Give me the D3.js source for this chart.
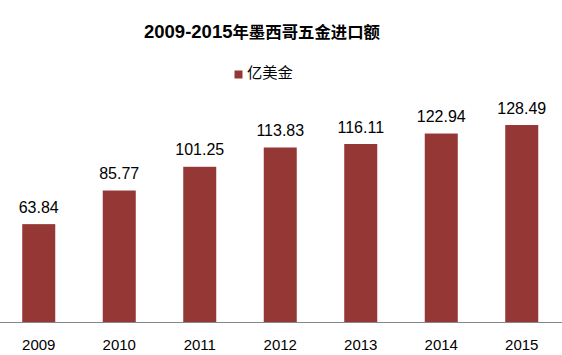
<!DOCTYPE html>
<html><head><meta charset="utf-8">
<script src="https://cdn.jsdelivr.net/npm/d3@7"></script>
<style>body{margin:0;background:#fff}svg{display:block}</style>
</head><body>
<script>
const years = ["2009","2010","2011","2012","2013","2014","2015"];
const values = [63.84, 85.77, 101.25, 113.83, 116.11, 122.94, 128.49];
const seriesName = "亿美金";
const titleNum = "2009-2015";
const titleCJK = "年墨西哥五金进口额";

const W = 562, H = 355;
const svg = d3.select("body").append("svg").attr("width", W).attr("height", H);

const x = d3.scaleBand().domain(years).range([-1.5, 562]).paddingInner(0.59).paddingOuter(0.295);
const y = d3.scaleLinear().domain([0, 140]).range([322, 322 - 140 * 1.533]);

// title
const t = svg.append("text").attr("x", 262).attr("y", 38).attr("text-anchor", "middle")
  .attr("font-weight", "bold").attr("fill", "#000");
t.append("tspan").attr("font-family", "'Liberation Sans', Arial, sans-serif").attr("font-size", 18.5).text(titleNum);
t.append("tspan").attr("font-family", "'Noto Sans CJK SC', sans-serif").attr("font-size", 16.4).text(titleCJK);

// legend
svg.append("rect").attr("x", 234.5).attr("y", 70.5).attr("width", 8).attr("height", 8).attr("fill", "#953735");
svg.append("text").attr("x", 247).attr("y", 78).attr("font-family", "'Noto Sans CJK SC', sans-serif")
  .attr("font-size", 15.3).attr("fill", "#000").text(seriesName);

// bars
svg.selectAll("rect.bar").data(values).join("rect").attr("class", "bar")
  .attr("x", (d, i) => x(years[i])).attr("width", x.bandwidth())
  .attr("y", d => y(d)).attr("height", d => y(0) - y(d)).attr("fill", "#953735");

// value labels
svg.selectAll("text.val").data(values).join("text").attr("class", "val")
  .attr("x", (d, i) => x(years[i]) + x.bandwidth() / 2).attr("y", d => y(d) - 11.5)
  .attr("text-anchor", "middle").attr("font-family", "'Liberation Sans', Arial, sans-serif")
  .attr("font-size", 16).attr("fill", "#000").text(d => d.toFixed(2));

// axis
const axis = svg.append("g").attr("transform", "translate(0,322)")
  .call(d3.axisBottom(x).tickSize(0).tickPadding(17));
axis.select(".domain").attr("d", "M0,0.5H562").attr("stroke", "#868686");
axis.selectAll("text").attr("font-family", "'Liberation Sans', Arial, sans-serif")
  .attr("font-size", 15).attr("fill", "#000");
</script>
</body></html>
